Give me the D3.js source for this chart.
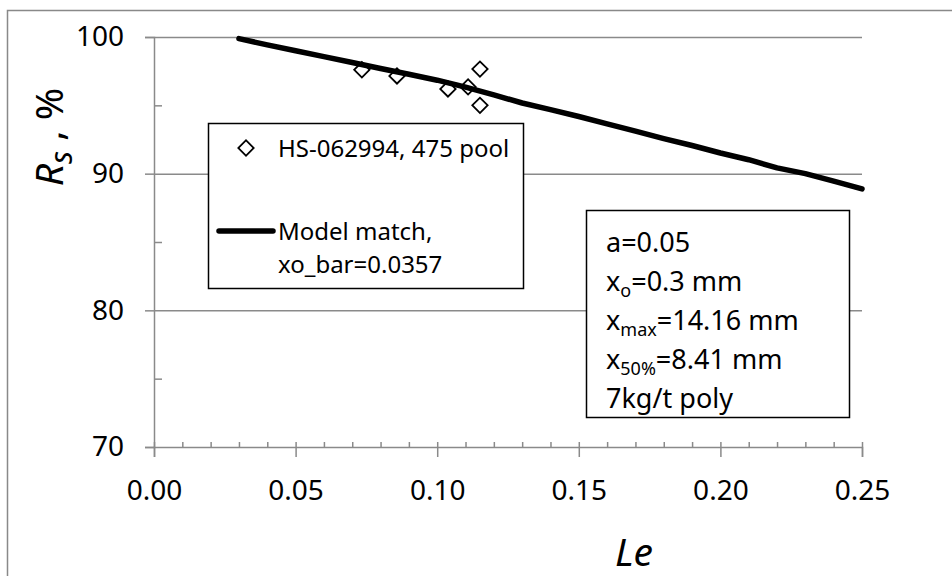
<!DOCTYPE html>
<html>
<head>
<meta charset="utf-8">
<script src="https://cdn.jsdelivr.net/npm/d3@7"></script>
<style>
  html, body { margin: 0; padding: 0; background: #fff; }
  svg text { font-family: "Noto Sans", "Open Sans", sans-serif; fill: #000; }
</style>
</head>
<body>
<div id="chart"></div>
<script>
// measured points, HS-062994, 475 pool
const pointLe = [0.0734, 0.0858, 0.1038, 0.1109, 0.1151, 0.1151];
const pointRs = [97.6, 97.15, 96.2, 96.35, 97.65, 95.0];

// model match curve
const modelLe = [0.03, 0.04, 0.05, 0.06, 0.07, 0.08, 0.09, 0.10, 0.11, 0.12, 0.13, 0.14,
  0.15, 0.16, 0.17, 0.18, 0.19, 0.20, 0.21, 0.22, 0.23, 0.24, 0.25];
const modelRs = [99.88, 99.42, 98.99, 98.56, 98.13, 97.70, 97.27, 96.84, 96.33, 95.76, 95.17, 94.69,
  94.18, 93.64, 93.11, 92.57, 92.06, 91.51, 91.02, 90.42, 90.0, 89.46, 88.88];

const xTicks = [0, 0.05, 0.10, 0.15, 0.20, 0.25];
const yTicks = [70, 80, 90, 100];
const yMinor = [75, 85, 95];
const legendLabels = ["HS-062994, 475 pool", "Model match,", "xo_bar=0.0357"];

const width = 952, height = 576;
const plotL = 154, plotR = 862, plotT = 37, plotB = 447;

const svg = d3.select("#chart").append("svg")
  .attr("width", width)
  .attr("height", height);

svg.append("rect").attr("width", width).attr("height", height).attr("fill", "#fff");

// outer chart frame (runs off the right/bottom edge)
svg.append("rect")
  .attr("x", 7.5).attr("y", 10.5)
  .attr("width", 1000).attr("height", 1000)
  .attr("fill", "none").attr("stroke", "#898989").attr("stroke-width", 1.5);

const x = d3.scaleLinear().domain([0, 0.25]).range([plotL, plotR]);
const y = d3.scaleLinear().domain([70, 100]).range([plotB, plotT]);

const gray = "#8a8a8a";

// gridlines
svg.append("g")
  .attr("transform", `translate(${plotL},0)`)
  .call(d3.axisLeft(y).tickValues([80, 90, 100]).tickSize(-(plotR - plotL)).tickFormat(""))
  .call(g => g.select(".domain").remove())
  .call(g => g.selectAll("line").attr("stroke", gray).attr("stroke-width", 1.5));

// y axis
svg.append("g")
  .attr("transform", `translate(${plotL},0)`)
  .call(d3.axisLeft(y).tickValues(yTicks).tickSize(9).tickPadding(21).tickFormat(d3.format("d")))
  .call(g => g.select(".domain").attr("stroke", gray).attr("stroke-width", 1.5))
  .call(g => g.selectAll("line").attr("stroke", gray).attr("stroke-width", 1.5))
  .call(g => g.selectAll("text").attr("font-size", 28).attr("font-family", "Noto Sans"));

svg.append("g")
  .attr("transform", `translate(${plotL},0)`)
  .call(d3.axisRight(y).tickValues(yMinor).tickSize(8).tickFormat(""))
  .call(g => g.select(".domain").remove())
  .call(g => g.selectAll("line").attr("stroke", gray).attr("stroke-width", 1.5));

// x axis
svg.append("g")
  .attr("transform", `translate(0,${plotB})`)
  .call(d3.axisBottom(x).tickValues(xTicks).tickSize(10).tickPadding(23).tickFormat(d3.format(".2f")))
  .call(g => g.select(".domain").attr("stroke", gray).attr("stroke-width", 1.5))
  .call(g => g.selectAll("line").attr("stroke", gray).attr("stroke-width", 1.5))
  .call(g => g.selectAll("text").attr("font-size", 28).attr("font-family", "Noto Sans"));

svg.append("g")
  .attr("transform", `translate(0,${plotB})`)
  .call(d3.axisTop(x).tickValues(d3.range(0, 26).map(i => i / 100)).tickSize(5).tickFormat(""))
  .call(g => g.select(".domain").remove())
  .call(g => g.selectAll("line").attr("stroke", gray).attr("stroke-width", 1.5));

// axis titles
const yTitle = svg.append("text")
  .attr("transform", "translate(63,137) rotate(-90)")
  .attr("text-anchor", "middle")
  .attr("font-size", 39);
yTitle.append("tspan").attr("font-style", "italic").text("R");
yTitle.append("tspan").attr("font-style", "italic").attr("font-size", 30).attr("dy", 9).text("s");
yTitle.append("tspan").attr("dy", -9).text(" , %");

svg.append("text")
  .attr("x", 634).attr("y", 566)
  .attr("text-anchor", "middle")
  .attr("font-size", 39)
  .attr("font-style", "italic")
  .text("Le");

// points
const pts = pointLe.map((d, i) => ({ le: d, rs: pointRs[i] }));
const diamond = d3.symbol().type(d3.symbolSquare).size(118);

svg.append("g").selectAll("path")
  .data(pts)
  .join("path")
  .attr("d", diamond)
  .attr("transform", d => `translate(${x(d.le)},${y(d.rs)}) rotate(45)`)
  .attr("fill", "#fff")
  .attr("stroke", "#000")
  .attr("stroke-width", 1.8);

// model line
const model = modelLe.map((d, i) => ({ le: d, rs: modelRs[i] }));
svg.append("path")
  .datum(model)
  .attr("d", d3.line().x(d => x(d.le)).y(d => y(d.rs)))
  .attr("fill", "none")
  .attr("stroke", "#000")
  .attr("stroke-width", 5.5)
  .attr("stroke-linecap", "round")
  .attr("stroke-linejoin", "round");

// legend
const leg = svg.append("g");
leg.append("rect")
  .attr("x", 208.5).attr("y", 123.5).attr("width", 315).attr("height", 165)
  .attr("fill", "#fff").attr("stroke", "#000").attr("stroke-width", 1.5);
leg.append("path")
  .attr("d", diamond)
  .attr("transform", "translate(246,148) rotate(45)")
  .attr("fill", "#fff").attr("stroke", "#000").attr("stroke-width", 1.8);
leg.append("text").attr("x", 278).attr("y", 157).attr("font-size", 24).text(legendLabels[0]);
leg.append("line")
  .attr("x1", 219).attr("x2", 273).attr("y1", 231).attr("y2", 231)
  .attr("stroke", "#000").attr("stroke-width", 5.5).attr("stroke-linecap", "round");
leg.append("text").attr("x", 278).attr("y", 240).attr("font-size", 24).text(legendLabels[1]);
leg.append("text").attr("x", 278).attr("y", 273).attr("font-size", 24).text(legendLabels[2]);

// parameter box
const box = svg.append("g");
box.append("rect")
  .attr("x", 586.5).attr("y", 210.5).attr("width", 263).attr("height", 207)
  .attr("fill", "#fff").attr("stroke", "#000").attr("stroke-width", 1.5);

const notes = [
  { main: "a=0.05" },
  { main: "x", sub: "o", rest: "=0.3 mm" },
  { main: "x", sub: "max", rest: "=14.16 mm" },
  { main: "x", sub: "50%", rest: "=8.41 mm" },
  { main: "7kg/t poly" }
];
notes.forEach((n, i) => {
  const t = box.append("text").attr("x", 606).attr("y", 252 + i * 39).attr("font-size", 27);
  t.append("tspan").text(n.main);
  if (n.sub) {
    t.append("tspan").attr("font-size", 18).attr("dy", 6).text(n.sub);
    t.append("tspan").attr("dy", -6).text(n.rest);
  }
});
</script>
</body>
</html>
